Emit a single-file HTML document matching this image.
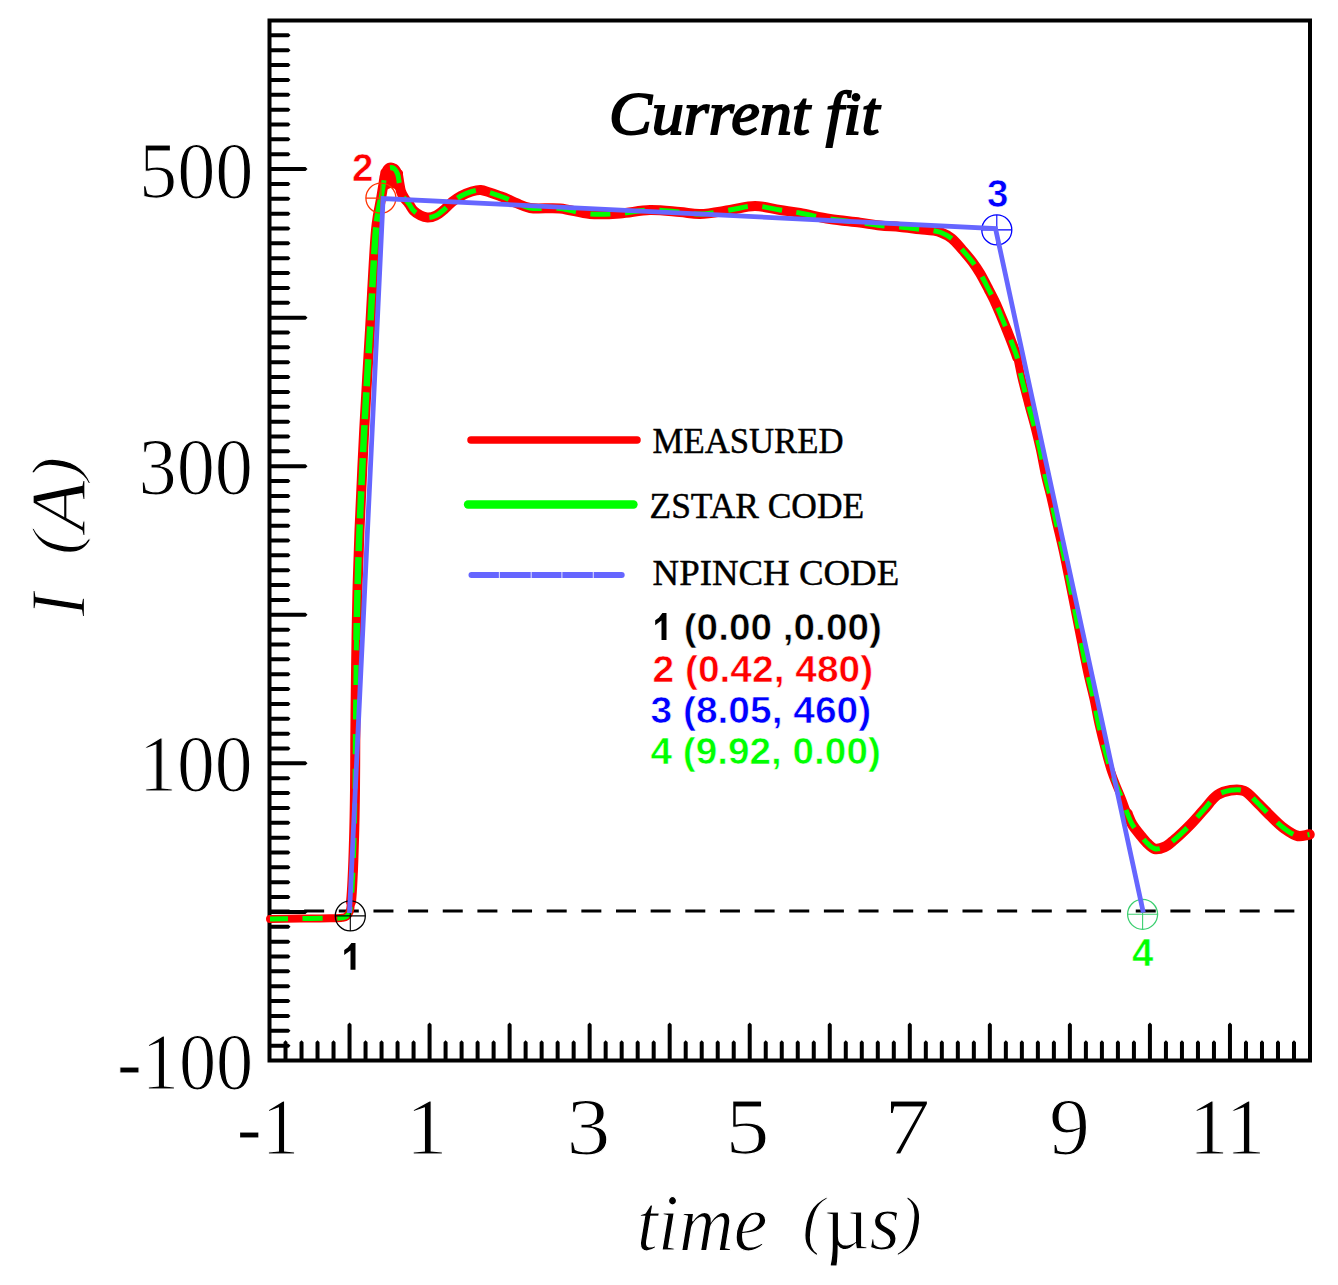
<!DOCTYPE html>
<html><head><meta charset="utf-8"><style>
html,body{margin:0;padding:0;background:#fff;overflow:hidden}
svg{display:block}
</style></head><body>
<svg width="1338" height="1285" viewBox="0 0 1338 1285">
<rect width="1338" height="1285" fill="#fff"/>
<rect x="269.5" y="20.5" width="1040.5" height="1040.0" fill="none" stroke="#000" stroke-width="4"/>
<path d="M271 33.36H288.5L290.5 35.36L288.5 37.36H271ZM271 48.21H288.5L290.5 50.21L288.5 52.21H271ZM271 63.07H288.5L290.5 65.07L288.5 67.07H271ZM271 77.93H288.5L290.5 79.93L288.5 81.93H271ZM271 92.79H288.5L290.5 94.79L288.5 96.79H271ZM271 107.64H288.5L290.5 109.64L288.5 111.64H271ZM271 122.50H288.5L290.5 124.50L288.5 126.50H271ZM271 137.36H288.5L290.5 139.36L288.5 141.36H271ZM271 152.21H288.5L290.5 154.21L288.5 156.21H271ZM271 167.07H305.5L307.5 169.07L305.5 171.07H271ZM271 181.93H288.5L290.5 183.93L288.5 185.93H271ZM271 196.79H288.5L290.5 198.79L288.5 200.79H271ZM271 211.64H288.5L290.5 213.64L288.5 215.64H271ZM271 226.50H288.5L290.5 228.50L288.5 230.50H271ZM271 241.36H288.5L290.5 243.36L288.5 245.36H271ZM271 256.21H288.5L290.5 258.21L288.5 260.21H271ZM271 271.07H288.5L290.5 273.07L288.5 275.07H271ZM271 285.93H288.5L290.5 287.93L288.5 289.93H271ZM271 300.79H288.5L290.5 302.79L288.5 304.79H271ZM271 315.64H305.5L307.5 317.64L305.5 319.64H271ZM271 330.50H288.5L290.5 332.50L288.5 334.50H271ZM271 345.36H288.5L290.5 347.36L288.5 349.36H271ZM271 360.21H288.5L290.5 362.21L288.5 364.21H271ZM271 375.07H288.5L290.5 377.07L288.5 379.07H271ZM271 389.93H288.5L290.5 391.93L288.5 393.93H271ZM271 404.79H288.5L290.5 406.79L288.5 408.79H271ZM271 419.64H288.5L290.5 421.64L288.5 423.64H271ZM271 434.50H288.5L290.5 436.50L288.5 438.50H271ZM271 449.36H288.5L290.5 451.36L288.5 453.36H271ZM271 464.21H305.5L307.5 466.21L305.5 468.21H271ZM271 479.07H288.5L290.5 481.07L288.5 483.07H271ZM271 493.93H288.5L290.5 495.93L288.5 497.93H271ZM271 508.79H288.5L290.5 510.79L288.5 512.79H271ZM271 523.64H288.5L290.5 525.64L288.5 527.64H271ZM271 538.50H288.5L290.5 540.50L288.5 542.50H271ZM271 553.36H288.5L290.5 555.36L288.5 557.36H271ZM271 568.21H288.5L290.5 570.21L288.5 572.21H271ZM271 583.07H288.5L290.5 585.07L288.5 587.07H271ZM271 597.93H288.5L290.5 599.93L288.5 601.93H271ZM271 612.79H305.5L307.5 614.79L305.5 616.79H271ZM271 627.64H288.5L290.5 629.64L288.5 631.64H271ZM271 642.50H288.5L290.5 644.50L288.5 646.50H271ZM271 657.36H288.5L290.5 659.36L288.5 661.36H271ZM271 672.21H288.5L290.5 674.21L288.5 676.21H271ZM271 687.07H288.5L290.5 689.07L288.5 691.07H271ZM271 701.93H288.5L290.5 703.93L288.5 705.93H271ZM271 716.79H288.5L290.5 718.79L288.5 720.79H271ZM271 731.64H288.5L290.5 733.64L288.5 735.64H271ZM271 746.50H288.5L290.5 748.50L288.5 750.50H271ZM271 761.36H305.5L307.5 763.36L305.5 765.36H271ZM271 776.21H288.5L290.5 778.21L288.5 780.21H271ZM271 791.07H288.5L290.5 793.07L288.5 795.07H271ZM271 805.93H288.5L290.5 807.93L288.5 809.93H271ZM271 820.79H288.5L290.5 822.79L288.5 824.79H271ZM271 835.64H288.5L290.5 837.64L288.5 839.64H271ZM271 850.50H288.5L290.5 852.50L288.5 854.50H271ZM271 865.36H288.5L290.5 867.36L288.5 869.36H271ZM271 880.21H288.5L290.5 882.21L288.5 884.21H271ZM271 895.07H288.5L290.5 897.07L288.5 899.07H271ZM271 909.93H305.5L307.5 911.93L305.5 913.93H271ZM271 924.79H288.5L290.5 926.79L288.5 928.79H271ZM271 939.64H288.5L290.5 941.64L288.5 943.64H271ZM271 954.50H288.5L290.5 956.50L288.5 958.50H271ZM271 969.36H288.5L290.5 971.36L288.5 973.36H271ZM271 984.21H288.5L290.5 986.21L288.5 988.21H271ZM271 999.07H288.5L290.5 1001.07L288.5 1003.07H271ZM271 1013.93H288.5L290.5 1015.93L288.5 1017.93H271ZM271 1028.79H288.5L290.5 1030.79L288.5 1032.79H271ZM271 1043.64H288.5L290.5 1045.64L288.5 1047.64H271ZM283.51 1059V1042.3L285.51 1040.3L287.51 1042.3V1059ZM299.52 1059V1042.3L301.52 1040.3L303.52 1042.3V1059ZM315.52 1059V1042.3L317.52 1040.3L319.52 1042.3V1059ZM331.53 1059V1042.3L333.53 1040.3L335.53 1042.3V1059ZM347.54 1059V1024.5L349.54 1022.5L351.54 1024.5V1059ZM363.55 1059V1042.3L365.55 1040.3L367.55 1042.3V1059ZM379.55 1059V1042.3L381.55 1040.3L383.55 1042.3V1059ZM395.56 1059V1042.3L397.56 1040.3L399.56 1042.3V1059ZM411.57 1059V1042.3L413.57 1040.3L415.57 1042.3V1059ZM427.58 1059V1024.5L429.58 1022.5L431.58 1024.5V1059ZM443.58 1059V1042.3L445.58 1040.3L447.58 1042.3V1059ZM459.59 1059V1042.3L461.59 1040.3L463.59 1042.3V1059ZM475.60 1059V1042.3L477.60 1040.3L479.60 1042.3V1059ZM491.61 1059V1042.3L493.61 1040.3L495.61 1042.3V1059ZM507.62 1059V1024.5L509.62 1022.5L511.62 1024.5V1059ZM523.62 1059V1042.3L525.62 1040.3L527.62 1042.3V1059ZM539.63 1059V1042.3L541.63 1040.3L543.63 1042.3V1059ZM555.64 1059V1042.3L557.64 1040.3L559.64 1042.3V1059ZM571.65 1059V1042.3L573.65 1040.3L575.65 1042.3V1059ZM587.65 1059V1024.5L589.65 1022.5L591.65 1024.5V1059ZM603.66 1059V1042.3L605.66 1040.3L607.66 1042.3V1059ZM619.67 1059V1042.3L621.67 1040.3L623.67 1042.3V1059ZM635.68 1059V1042.3L637.68 1040.3L639.68 1042.3V1059ZM651.68 1059V1042.3L653.68 1040.3L655.68 1042.3V1059ZM667.69 1059V1024.5L669.69 1022.5L671.69 1024.5V1059ZM683.70 1059V1042.3L685.70 1040.3L687.70 1042.3V1059ZM699.71 1059V1042.3L701.71 1040.3L703.71 1042.3V1059ZM715.72 1059V1042.3L717.72 1040.3L719.72 1042.3V1059ZM731.72 1059V1042.3L733.72 1040.3L735.72 1042.3V1059ZM747.73 1059V1024.5L749.73 1022.5L751.73 1024.5V1059ZM763.74 1059V1042.3L765.74 1040.3L767.74 1042.3V1059ZM779.75 1059V1042.3L781.75 1040.3L783.75 1042.3V1059ZM795.75 1059V1042.3L797.75 1040.3L799.75 1042.3V1059ZM811.76 1059V1042.3L813.76 1040.3L815.76 1042.3V1059ZM827.77 1059V1024.5L829.77 1022.5L831.77 1024.5V1059ZM843.78 1059V1042.3L845.78 1040.3L847.78 1042.3V1059ZM859.78 1059V1042.3L861.78 1040.3L863.78 1042.3V1059ZM875.79 1059V1042.3L877.79 1040.3L879.79 1042.3V1059ZM891.80 1059V1042.3L893.80 1040.3L895.80 1042.3V1059ZM907.81 1059V1024.5L909.81 1022.5L911.81 1024.5V1059ZM923.82 1059V1042.3L925.82 1040.3L927.82 1042.3V1059ZM939.82 1059V1042.3L941.82 1040.3L943.82 1042.3V1059ZM955.83 1059V1042.3L957.83 1040.3L959.83 1042.3V1059ZM971.84 1059V1042.3L973.84 1040.3L975.84 1042.3V1059ZM987.85 1059V1024.5L989.85 1022.5L991.85 1024.5V1059ZM1003.85 1059V1042.3L1005.85 1040.3L1007.85 1042.3V1059ZM1019.86 1059V1042.3L1021.86 1040.3L1023.86 1042.3V1059ZM1035.87 1059V1042.3L1037.87 1040.3L1039.87 1042.3V1059ZM1051.88 1059V1042.3L1053.88 1040.3L1055.88 1042.3V1059ZM1067.88 1059V1024.5L1069.88 1022.5L1071.88 1024.5V1059ZM1083.89 1059V1042.3L1085.89 1040.3L1087.89 1042.3V1059ZM1099.90 1059V1042.3L1101.90 1040.3L1103.90 1042.3V1059ZM1115.91 1059V1042.3L1117.91 1040.3L1119.91 1042.3V1059ZM1131.92 1059V1042.3L1133.92 1040.3L1135.92 1042.3V1059ZM1147.92 1059V1024.5L1149.92 1022.5L1151.92 1024.5V1059ZM1163.93 1059V1042.3L1165.93 1040.3L1167.93 1042.3V1059ZM1179.94 1059V1042.3L1181.94 1040.3L1183.94 1042.3V1059ZM1195.95 1059V1042.3L1197.95 1040.3L1199.95 1042.3V1059ZM1211.95 1059V1042.3L1213.95 1040.3L1215.95 1042.3V1059ZM1227.96 1059V1024.5L1229.96 1022.5L1231.96 1024.5V1059ZM1243.97 1059V1042.3L1245.97 1040.3L1247.97 1042.3V1059ZM1259.98 1059V1042.3L1261.98 1040.3L1263.98 1042.3V1059ZM1275.98 1059V1042.3L1277.98 1040.3L1279.98 1042.3V1059ZM1291.99 1059V1042.3L1293.99 1040.3L1295.99 1042.3V1059Z" fill="#000"/>
<line x1="269.5" y1="911" x2="1296" y2="911" stroke="#000" stroke-width="2.8" stroke-dasharray="20 14.65"/>
<path d="M270.0 919.0C280.0 918.9 290.0 918.7 300.0 918.6C310.0 918.5 322.3 918.4 330.0 918.2C334.9 918.1 339.0 918.3 342.0 917.8C343.9 917.5 345.3 917.4 346.5 916.5C347.8 915.5 348.8 913.9 349.5 912.0C350.5 909.4 350.6 906.0 351.0 902.0C351.6 896.1 352.1 888.4 352.5 880.0C353.1 868.6 353.6 854.1 354.0 840.0C354.5 824.3 354.8 806.7 355.0 790.0C355.2 773.3 355.2 756.7 355.3 740.0C355.4 723.3 355.6 706.7 355.8 690.0C356.0 673.3 356.2 656.7 356.5 640.0C356.8 623.3 357.0 607.4 357.5 590.0C358.0 570.9 358.6 552.5 359.5 530.0C360.7 500.9 362.5 463.3 364.2 430.0C366.0 396.7 368.0 363.3 370.0 330.0C372.0 296.7 374.2 248.6 376.0 230.0C376.7 222.8 377.2 220.0 378.0 215.0C378.8 210.0 379.9 205.0 380.8 200.0C381.7 195.0 382.5 189.6 383.3 185.0C384.0 181.0 384.1 177.0 385.3 174.0C386.2 171.6 387.4 168.8 389.0 168.0C390.4 167.3 392.6 167.7 394.0 168.5C395.6 169.5 396.7 171.8 397.6 174.0C398.6 176.5 398.7 180.0 399.3 183.0C399.9 185.9 400.1 188.9 401.0 191.5C401.8 193.9 403.0 195.9 404.3 198.0C405.6 200.1 407.5 201.9 409.0 204.0C410.6 206.1 411.6 208.7 413.5 210.6C415.5 212.6 418.2 214.3 420.6 215.5C422.8 216.6 425.1 217.4 427.5 217.5C430.2 217.6 433.3 216.8 436.0 215.5C439.1 214.1 442.1 211.3 444.8 209.0C447.4 206.8 449.4 204.1 452.0 202.0C454.7 199.8 457.8 197.7 461.0 196.0C464.3 194.2 468.2 192.5 471.7 191.5C474.8 190.6 477.7 189.8 480.7 190.0C483.7 190.2 486.7 191.6 489.7 192.5C492.7 193.4 495.7 194.5 498.7 195.6C501.7 196.7 504.6 197.7 507.6 199.0C510.6 200.3 513.3 201.8 516.6 203.2C520.6 204.8 524.5 207.0 530.0 208.0C537.9 209.4 550.0 207.5 560.0 208.5C570.0 209.5 580.0 213.2 590.0 214.0C600.0 214.8 610.0 214.2 620.0 213.5C630.0 212.8 640.0 210.2 650.0 210.0C660.0 209.8 671.0 211.3 680.0 212.0C687.3 212.6 692.7 214.1 700.0 214.0C709.0 213.9 720.5 211.4 730.0 210.0C738.7 208.7 746.7 206.0 755.0 206.0C763.3 206.0 772.1 208.8 780.0 210.0C787.0 211.1 792.7 211.7 800.0 213.0C809.0 214.6 820.0 217.4 830.0 219.0C840.0 220.6 851.0 221.4 860.0 222.6C867.3 223.6 873.3 224.8 880.0 225.5C886.7 226.2 893.3 226.4 900.0 227.0C906.7 227.6 914.0 228.7 920.0 229.3C924.9 229.8 929.5 229.9 933.3 230.6C936.2 231.1 938.2 231.4 940.9 232.5C944.3 233.8 948.4 235.8 951.8 238.5C955.6 241.5 959.0 246.1 962.5 250.0C965.9 253.9 969.5 258.0 972.5 262.0C975.3 265.8 977.6 269.2 980.1 273.4C983.0 278.3 986.1 284.5 988.8 289.7C991.2 294.3 993.3 298.2 995.4 302.8C997.7 307.6 999.8 313.1 1001.9 318.0C1003.8 322.5 1005.5 326.6 1007.3 331.1C1009.1 335.7 1011.1 340.8 1012.8 345.3C1014.3 349.5 1015.8 352.8 1017.1 357.3C1018.7 362.9 1019.6 369.6 1021.2 376.5C1023.1 384.6 1025.6 394.1 1027.9 402.9C1030.2 411.7 1033.0 421.2 1035.1 429.4C1036.9 436.5 1038.2 442.1 1039.8 449.2C1041.6 457.4 1043.2 467.1 1045.1 475.7C1046.9 483.9 1049.2 491.7 1051.0 499.5C1052.8 507.1 1054.2 514.1 1056.0 522.0C1058.0 530.8 1060.4 540.5 1062.5 550.0C1064.7 559.8 1066.4 568.9 1068.7 580.0C1071.5 593.8 1074.9 611.1 1078.0 626.7C1081.1 642.3 1084.5 660.0 1087.4 673.4C1089.6 683.5 1091.8 691.3 1093.7 700.0C1095.5 708.4 1096.8 716.6 1098.7 724.9C1100.6 733.2 1102.8 742.0 1104.9 749.8C1106.8 756.8 1108.5 763.6 1110.5 769.7C1112.3 775.1 1114.1 779.7 1116.1 784.7C1118.1 789.7 1120.4 794.7 1122.3 799.6C1124.1 804.2 1125.6 809.0 1127.3 813.3C1128.9 817.3 1130.2 821.0 1132.3 824.5C1134.4 828.1 1137.3 831.3 1139.8 834.5C1142.2 837.5 1144.6 840.7 1147.2 843.2C1149.6 845.4 1151.9 848.1 1154.7 848.8C1157.7 849.5 1161.5 848.3 1164.7 846.9C1168.2 845.4 1171.0 842.5 1174.6 839.5C1179.4 835.5 1185.4 829.7 1190.4 824.6C1195.2 819.8 1199.3 814.7 1203.8 809.8C1208.3 804.9 1212.4 798.3 1217.3 795.0C1221.5 792.3 1226.2 791.0 1230.7 790.3C1235.1 789.7 1240.0 789.3 1244.2 791.0C1249.1 793.0 1253.2 798.8 1257.6 803.0C1262.2 807.3 1266.6 812.2 1271.1 816.5C1275.5 820.7 1279.8 825.3 1284.5 828.6C1288.8 831.7 1293.5 835.2 1298.0 836.0C1301.9 836.7 1305.7 835.0 1309.5 834.5" fill="none" stroke="#ff0000" stroke-width="8" stroke-linejoin="round" stroke-linecap="round"/>
<path d="M351.0 902.0C351.6 896.1 352.1 888.4 352.5 880.0C353.1 868.6 353.6 854.1 354.0 840.0C354.5 824.3 354.8 806.7 355.0 790.0C355.2 773.3 355.2 756.7 355.3 740.0C355.4 723.3 355.6 706.7 355.8 690.0C356.0 673.3 356.2 656.7 356.5 640.0C356.8 623.3 357.0 607.4 357.5 590.0C358.0 570.9 358.6 552.5 359.5 530.0C360.7 500.9 362.5 463.3 364.2 430.0C366.0 396.7 368.0 363.3 370.0 330.0C372.0 296.7 374.2 248.6 376.0 230.0C376.7 222.8 377.2 220.0 378.0 215.0C378.8 210.0 379.9 205.0 380.8 200.0C381.7 195.0 382.5 189.6 383.3 185.0C384.0 181.0 384.1 177.0 385.3 174.0C386.2 171.6 387.4 168.8 389.0 168.0C390.4 167.3 392.6 167.7 394.0 168.5C395.6 169.5 396.7 171.8 397.6 174.0C398.6 176.5 398.7 180.0 399.3 183.0C399.9 185.9 400.1 188.9 401.0 191.5C401.8 193.9 403.0 195.9 404.3 198.0C405.6 200.1 407.5 201.9 409.0 204.0C410.6 206.1 411.6 208.7 413.5 210.6C415.5 212.6 418.2 214.3 420.6 215.5C422.8 216.6 425.1 217.4 427.5 217.5C430.2 217.6 433.3 216.8 436.0 215.5C439.1 214.1 442.1 211.3 444.8 209.0C447.4 206.8 449.4 204.1 452.0 202.0C454.7 199.8 457.8 197.7 461.0 196.0C464.3 194.2 468.2 192.5 471.7 191.5C474.8 190.6 477.7 189.8 480.7 190.0C483.7 190.2 486.7 191.6 489.7 192.5C492.7 193.4 495.7 194.5 498.7 195.6C501.7 196.7 504.6 197.7 507.6 199.0C510.6 200.3 513.3 201.8 516.6 203.2C520.6 204.8 524.5 207.0 530.0 208.0C537.9 209.4 550.0 207.5 560.0 208.5C570.0 209.5 580.0 213.2 590.0 214.0C600.0 214.8 610.0 214.2 620.0 213.5C630.0 212.8 640.0 210.2 650.0 210.0C660.0 209.8 671.0 211.3 680.0 212.0C687.3 212.6 692.7 214.1 700.0 214.0C709.0 213.9 720.5 211.4 730.0 210.0C738.7 208.7 746.7 206.0 755.0 206.0C763.3 206.0 772.1 208.8 780.0 210.0C787.0 211.1 792.7 211.7 800.0 213.0C809.0 214.6 820.0 217.4 830.0 219.0C840.0 220.6 851.0 221.4 860.0 222.6C867.3 223.6 873.3 224.8 880.0 225.5C886.7 226.2 893.3 226.4 900.0 227.0C906.7 227.6 914.0 228.7 920.0 229.3C924.9 229.8 929.5 229.9 933.3 230.6C936.2 231.1 938.2 231.4 940.9 232.5C944.3 233.8 948.4 235.8 951.8 238.5C955.6 241.5 959.0 246.1 962.5 250.0C965.9 253.9 969.5 258.0 972.5 262.0C975.3 265.8 977.6 269.2 980.1 273.4C983.0 278.3 986.1 284.5 988.8 289.7C991.2 294.3 993.3 298.2 995.4 302.8C997.7 307.6 999.8 313.1 1001.9 318.0C1003.8 322.5 1005.5 326.6 1007.3 331.1C1009.1 335.7 1011.1 340.8 1012.8 345.3C1014.3 349.5 1015.8 352.8 1017.1 357.3" fill="none" stroke="#ff0000" stroke-width="10" stroke-linejoin="round" stroke-linecap="round"/>
<path d="M1127.3 813.3C1128.9 817.3 1130.2 821.0 1132.3 824.5C1134.4 828.1 1137.3 831.3 1139.8 834.5C1142.2 837.5 1144.6 840.7 1147.2 843.2C1149.6 845.4 1151.9 848.1 1154.7 848.8C1157.7 849.5 1161.5 848.3 1164.7 846.9C1168.2 845.4 1171.0 842.5 1174.6 839.5C1179.4 835.5 1185.4 829.7 1190.4 824.6C1195.2 819.8 1199.3 814.7 1203.8 809.8C1208.3 804.9 1212.4 798.3 1217.3 795.0C1221.5 792.3 1226.2 791.0 1230.7 790.3C1235.1 789.7 1240.0 789.3 1244.2 791.0C1249.1 793.0 1253.2 798.8 1257.6 803.0C1262.2 807.3 1266.6 812.2 1271.1 816.5C1275.5 820.7 1279.8 825.3 1284.5 828.6C1288.8 831.7 1293.5 835.2 1298.0 836.0C1301.9 836.7 1305.7 835.0 1309.5 834.5" fill="none" stroke="#ff0000" stroke-width="10.5" stroke-linejoin="round" stroke-linecap="round"/>
<path d="M380.5 197L380.5 171L382 169L386 169L386.1 165L388 163.2L392.7 163.2L397.3 168.5L402 170.6L403 172.3L403 183L400 189L396 190L394 188.5L390.5 188L387 189.5L385 197Z" fill="#ff0000"/>
<path d="M270.0 919.0C280.0 918.9 290.0 918.7 300.0 918.6C310.0 918.5 322.3 918.4 330.0 918.2C334.9 918.1 339.0 918.3 342.0 917.8C343.9 917.5 345.3 917.4 346.5 916.5C347.8 915.5 348.8 913.9 349.5 912.0C350.5 909.4 350.6 906.0 351.0 902.0C351.6 896.1 352.1 888.4 352.5 880.0C353.1 868.6 353.6 854.1 354.0 840.0C354.5 824.3 354.8 806.7 355.0 790.0C355.2 773.3 355.2 756.7 355.3 740.0C355.4 723.3 355.6 706.7 355.8 690.0C356.0 673.3 356.2 656.7 356.5 640.0" fill="none" stroke="#00ff00" stroke-width="5" stroke-dasharray="20 14.6" stroke-dashoffset="2"/>
<path d="M356.5 640.0C356.8 623.3 357.0 607.4 357.5 590.0C358.0 570.9 358.6 552.5 359.5 530.0C360.7 500.9 362.5 463.3 364.2 430.0C366.0 396.7 368.0 363.3 370.0 330.0C372.0 296.7 374.2 248.6 376.0 230.0C376.7 222.8 377.2 220.0 378.0 215.0C378.8 210.0 379.9 205.0 380.8 200.0" fill="none" stroke="#00ff00" stroke-width="6.5" stroke-dasharray="27 6" stroke-dashoffset="10"/>
<path d="M380.8 200.0C381.7 195.0 382.5 189.6 383.3 185.0C384.0 181.0 384.1 177.0 385.3 174.0C386.2 171.6 387.4 168.8 389.0 168.0C390.4 167.3 392.6 167.7 394.0 168.5C395.6 169.5 396.7 171.8 397.6 174.0C398.6 176.5 398.7 180.0 399.3 183.0C399.9 185.9 400.1 188.9 401.0 191.5C401.8 193.9 403.0 195.9 404.3 198.0C405.6 200.1 407.5 201.9 409.0 204.0C410.6 206.1 411.6 208.7 413.5 210.6C415.5 212.6 418.2 214.3 420.6 215.5C422.8 216.6 425.1 217.4 427.5 217.5C430.2 217.6 433.3 216.8 436.0 215.5C439.1 214.1 442.1 211.3 444.8 209.0C447.4 206.8 449.4 204.1 452.0 202.0C454.7 199.8 457.8 197.7 461.0 196.0C464.3 194.2 468.2 192.5 471.7 191.5C474.8 190.6 477.7 189.8 480.7 190.0C483.7 190.2 486.7 191.6 489.7 192.5C492.7 193.4 495.7 194.5 498.7 195.6C501.7 196.7 504.6 197.7 507.6 199.0C510.6 200.3 513.3 201.8 516.6 203.2C520.6 204.8 524.5 207.0 530.0 208.0C537.9 209.4 550.0 207.5 560.0 208.5C570.0 209.5 580.0 213.2 590.0 214.0C600.0 214.8 610.0 214.2 620.0 213.5C630.0 212.8 640.0 210.2 650.0 210.0C660.0 209.8 671.0 211.3 680.0 212.0C687.3 212.6 692.7 214.1 700.0 214.0C709.0 213.9 720.5 211.4 730.0 210.0C738.7 208.7 746.7 206.0 755.0 206.0C763.3 206.0 772.1 208.8 780.0 210.0C787.0 211.1 792.7 211.7 800.0 213.0C809.0 214.6 820.0 217.4 830.0 219.0C840.0 220.6 851.0 221.4 860.0 222.6C867.3 223.6 873.3 224.8 880.0 225.5C886.7 226.2 893.3 226.4 900.0 227.0C906.7 227.6 914.0 228.7 920.0 229.3C924.9 229.8 929.5 229.9 933.3 230.6C936.2 231.1 938.2 231.4 940.9 232.5C944.3 233.8 948.4 235.8 951.8 238.5C955.6 241.5 959.0 246.1 962.5 250.0C965.9 253.9 969.5 258.0 972.5 262.0C975.3 265.8 977.6 269.2 980.1 273.4C983.0 278.3 986.1 284.5 988.8 289.7C991.2 294.3 993.3 298.2 995.4 302.8C997.7 307.6 999.8 313.1 1001.9 318.0C1003.8 322.5 1005.5 326.6 1007.3 331.1C1009.1 335.7 1011.1 340.8 1012.8 345.3C1014.3 349.5 1015.8 352.8 1017.1 357.3C1018.7 362.9 1019.6 369.6 1021.2 376.5C1023.1 384.6 1025.6 394.1 1027.9 402.9C1030.2 411.7 1033.0 421.2 1035.1 429.4C1036.9 436.5 1038.2 442.1 1039.8 449.2C1041.6 457.4 1043.2 467.1 1045.1 475.7C1046.9 483.9 1049.2 491.7 1051.0 499.5C1052.8 507.1 1054.2 514.1 1056.0 522.0C1058.0 530.8 1060.4 540.5 1062.5 550.0C1064.7 559.8 1066.4 568.9 1068.7 580.0C1071.5 593.8 1074.9 611.1 1078.0 626.7C1081.1 642.3 1084.5 660.0 1087.4 673.4C1089.6 683.5 1091.8 691.3 1093.7 700.0C1095.5 708.4 1096.8 716.6 1098.7 724.9C1100.6 733.2 1102.8 742.0 1104.9 749.8C1106.8 756.8 1108.5 763.6 1110.5 769.7C1112.3 775.1 1114.1 779.7 1116.1 784.7C1118.1 789.7 1120.4 794.7 1122.3 799.6C1124.1 804.2 1125.6 809.0 1127.3 813.3C1128.9 817.3 1130.2 821.0 1132.3 824.5C1134.4 828.1 1137.3 831.3 1139.8 834.5C1142.2 837.5 1144.6 840.7 1147.2 843.2C1149.6 845.4 1151.9 848.1 1154.7 848.8C1157.7 849.5 1161.5 848.3 1164.7 846.9C1168.2 845.4 1171.0 842.5 1174.6 839.5C1179.4 835.5 1185.4 829.7 1190.4 824.6C1195.2 819.8 1199.3 814.7 1203.8 809.8C1208.3 804.9 1212.4 798.3 1217.3 795.0C1221.5 792.3 1226.2 791.0 1230.7 790.3C1235.1 789.7 1240.0 789.3 1244.2 791.0C1249.1 793.0 1253.2 798.8 1257.6 803.0C1262.2 807.3 1266.6 812.2 1271.1 816.5C1275.5 820.7 1279.8 825.3 1284.5 828.6C1288.8 831.7 1293.5 835.2 1298.0 836.0C1301.9 836.7 1305.7 835.0 1309.5 834.5" fill="none" stroke="#00ff00" stroke-width="5" stroke-dasharray="20 14.6" stroke-linejoin="round"/>
<circle cx="350.3" cy="915.9" r="15" stroke="#000" stroke-width="1.3" fill="none"/><path d="M335.3 915.9H365.3M350.3 900.9V930.9" stroke="#000" stroke-width="1.1" fill="none"/>
<circle cx="380.9" cy="198.1" r="15" stroke="#ff3300" stroke-width="1.3" fill="none"/><path d="M365.9 198.1H395.9M380.9 183.1V213.1" stroke="#ff3300" stroke-width="1.1" fill="none"/>
<circle cx="996.8" cy="229.9" r="15" stroke="#0000ff" stroke-width="1.3" fill="none"/><path d="M981.8 229.9H1011.8M996.8 214.9V244.9" stroke="#0000ff" stroke-width="1.1" fill="none"/>
<circle cx="1142.6" cy="914.3" r="15" stroke="#3ccf70" stroke-width="1.3" fill="none"/><path d="M1127.6 914.3H1157.6M1142.6 899.3V929.3" stroke="#3ccf70" stroke-width="1.1" fill="none"/>
<polyline points="349.5,913 383.1,198.5 995.5,228.5 1143.3,912.5" fill="none" stroke="#6666ff" stroke-width="4.8" stroke-linejoin="miter"/>
<line x1="471" y1="440" x2="637" y2="440" stroke="#ff0000" stroke-width="7.5" stroke-linecap="round"/>
<line x1="468" y1="504.5" x2="633.5" y2="504.5" stroke="#00ff00" stroke-width="8.3" stroke-linecap="round"/>
<line x1="471.5" y1="575" x2="621.7" y2="575" stroke="#6666ff" stroke-width="6" stroke-linecap="round"/>
<path d="M499.4 571.5V578.5M531.2 571.5V578.5M561.9 571.5V578.5M593.3 571.5V578.5" stroke="#fff" stroke-opacity="0.75" stroke-width="1.1"/>
<path d="M662.40 613.10 L666.50 613.10 L666.50 639.90 L661.50 639.90 L661.50 620.60 L655.20 625.30 L655.20 620.30 L658.80 617.70Z" fill="#000"/>
<path d="M351.40 942.90 L355.50 942.90 L355.50 969.70 L350.50 969.70 L350.50 950.40 L344.20 955.10 L344.20 950.10 L347.80 947.50Z" fill="#000"/>
<text transform="translate(253.55 198.29999999999998) scale(0.9488 1)" text-anchor="end" style="font-family:'Liberation Serif';font-size:80.5px;font-variant-ligatures:none;" fill="#000" stroke="#fff" stroke-width="1.2" xml:space="preserve">500</text>
<text transform="translate(253.05 493.8) scale(0.9489 1)" text-anchor="end" style="font-family:'Liberation Serif';font-size:80.5px;font-variant-ligatures:none;" fill="#000" stroke="#fff" stroke-width="1.2" xml:space="preserve">300</text>
<text transform="translate(252.6 791.1999999999999) scale(0.9407 1)" text-anchor="end" style="font-family:'Liberation Serif';font-size:80.5px;font-variant-ligatures:none;" fill="#000" stroke="#fff" stroke-width="1.2" xml:space="preserve">100</text>
<text transform="translate(253.25 1088.8000000000002) scale(0.9236 1)" text-anchor="end" style="font-family:'Liberation Serif';font-size:80.5px;font-variant-ligatures:none;" fill="#000" stroke="#fff" stroke-width="1.2" xml:space="preserve">-100</text>
<text transform="translate(267.9 1153.5) scale(0.9299 1)" text-anchor="middle" style="font-family:'Liberation Serif';font-size:80.5px;font-variant-ligatures:none;" fill="#000" stroke="#fff" stroke-width="1.2" xml:space="preserve">-1</text>
<text transform="translate(426.65 1153.5) scale(1.0376 1)" text-anchor="middle" style="font-family:'Liberation Serif';font-size:80.5px;font-variant-ligatures:none;" fill="#000" stroke="#fff" stroke-width="1.2" xml:space="preserve">1</text>
<text transform="translate(588.4 1154.0) scale(1.0896 1)" text-anchor="middle" style="font-family:'Liberation Serif';font-size:80.5px;font-variant-ligatures:none;" fill="#000" stroke="#fff" stroke-width="1.2" xml:space="preserve">3</text>
<text transform="translate(747.5 1154.0) scale(1.0928 1)" text-anchor="middle" style="font-family:'Liberation Serif';font-size:80.5px;font-variant-ligatures:none;" fill="#000" stroke="#fff" stroke-width="1.2" xml:space="preserve">5</text>
<text transform="translate(907.3 1154.0) scale(1.1424 1)" text-anchor="middle" style="font-family:'Liberation Serif';font-size:80.5px;font-variant-ligatures:none;" fill="#000" stroke="#fff" stroke-width="1.2" xml:space="preserve">7</text>
<text transform="translate(1069.45 1154.0) scale(1.0082 1)" text-anchor="middle" style="font-family:'Liberation Serif';font-size:80.5px;font-variant-ligatures:none;" fill="#000" stroke="#fff" stroke-width="1.2" xml:space="preserve">9</text>
<text transform="translate(1227.1 1153.5) scale(0.9808 1)" text-anchor="middle" style="font-family:'Liberation Serif';font-size:80.5px;font-variant-ligatures:none;" fill="#000" stroke="#fff" stroke-width="1.2" xml:space="preserve">11</text>
<text transform="translate(636.75 1250.0) scale(0.9521 1)" text-anchor="start" style="font-family:'Liberation Serif';font-size:79.72px;font-variant-ligatures:none;font-style:italic;" fill="#000" stroke="#fff" stroke-width="1.2" xml:space="preserve">time</text>
<text transform="translate(802.5 1249) scale(0.9862 1)" text-anchor="start" style="font-family:'Liberation Serif';font-size:79.72px;font-variant-ligatures:none;font-style:italic;" fill="#000" stroke="#fff" stroke-width="1.2" xml:space="preserve"><tspan font-size='66' dy='-7'>(</tspan><tspan dy='7' font-style='normal'>µ</tspan>s<tspan font-size='66' dy='-7'>)</tspan></text>
<text transform="translate(84 604.5) rotate(-90) scale(0.9 1)" text-anchor="middle" style="font-family:'Liberation Serif';font-size:77.67px;font-variant-ligatures:none;font-style:italic;" fill="#000" stroke="#fff" stroke-width="1.2" xml:space="preserve">I</text>
<text transform="translate(84 505.9) rotate(-90) scale(1.0718 1)" text-anchor="middle" style="font-family:'Liberation Serif';font-size:77.67px;font-variant-ligatures:none;font-style:italic;" fill="#000" stroke="#fff" stroke-width="1.2" xml:space="preserve"><tspan font-size='66' dy='-7'>(</tspan><tspan dy='7'>A</tspan><tspan font-size='66' dy='-7'>)</tspan></text>
<text transform="translate(744.1 133.5) scale(1.052 1)" text-anchor="middle" style="font-family:'Liberation Serif';font-size:61px;font-variant-ligatures:none;font-style:italic;" fill="#000" stroke="#000" stroke-width="1.9" xml:space="preserve">Current fit</text>
<text transform="translate(652.6 453) scale(0.954 1)" text-anchor="start" style="font-family:'Liberation Serif';font-size:36.4px;font-variant-ligatures:none;" fill="#000" stroke="#000" stroke-width="0.45" xml:space="preserve">MEASURED</text>
<text transform="translate(649.5 518.3) scale(0.974 1)" text-anchor="start" style="font-family:'Liberation Serif';font-size:36.4px;font-variant-ligatures:none;" fill="#000" stroke="#000" stroke-width="0.45" xml:space="preserve">ZSTAR CODE</text>
<text transform="translate(652.6 585.3) scale(1.012 1)" text-anchor="start" style="font-family:'Liberation Serif';font-size:36.4px;font-variant-ligatures:none;" fill="#000" stroke="#000" stroke-width="0.45" xml:space="preserve">NPINCH CODE</text>
<text transform="translate(683.7 639.8) scale(1.048 1)" text-anchor="start" style="font-family:'Liberation Sans';font-size:37px;font-variant-ligatures:none;font-weight:bold;" fill="#000" stroke="#fff" stroke-width="0.6" xml:space="preserve">(0.00 ,0.00)</text>
<text transform="translate(652.5 682) scale(1.052 1)" text-anchor="start" style="font-family:'Liberation Sans';font-size:37px;font-variant-ligatures:none;font-weight:bold;" fill="#ff0000" stroke="#fff" stroke-width="0.6" xml:space="preserve">2 (0.42, 480)</text>
<text transform="translate(650.5 722.8) scale(1.052 1)" text-anchor="start" style="font-family:'Liberation Sans';font-size:37px;font-variant-ligatures:none;font-weight:bold;" fill="#0000ff" stroke="#fff" stroke-width="0.6" xml:space="preserve">3 (8.05, 460)</text>
<text transform="translate(650.5 764.2) scale(1.047 1)" text-anchor="start" style="font-family:'Liberation Sans';font-size:37px;font-variant-ligatures:none;font-weight:bold;" fill="#00ff00" stroke="#fff" stroke-width="0.6" xml:space="preserve">4 (9.92, 0.00)</text>
<text transform="translate(362.7 180.8)" text-anchor="middle" style="font-family:'Liberation Sans';font-size:38.5px;font-variant-ligatures:none;font-weight:bold;" fill="#ff0000" stroke="#fff" stroke-width="0.6" xml:space="preserve">2</text>
<text transform="translate(997.8 206.7)" text-anchor="middle" style="font-family:'Liberation Sans';font-size:38.5px;font-variant-ligatures:none;font-weight:bold;" fill="#0000ff" stroke="#fff" stroke-width="0.6" xml:space="preserve">3</text>
<text transform="translate(1142.6 965.8)" text-anchor="middle" style="font-family:'Liberation Sans';font-size:38.5px;font-variant-ligatures:none;font-weight:bold;" fill="#00ff00" stroke="#fff" stroke-width="0.6" xml:space="preserve">4</text>
</svg>
</body></html>
